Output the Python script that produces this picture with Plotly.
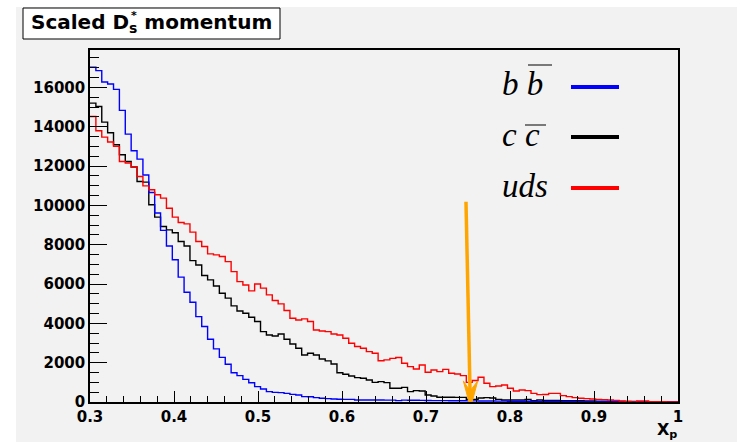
import numpy as np
import plotly.graph_objects as go

# ---------------- data ----------------
X_MIN, X_MAX, N_BINS = 0.3, 1.0, 100
CUT_XP = 0.75

series_names = ["b b", "c c", "uds"]

bb_counts = [
    17020, 16850, 16270, 16170, 15900, 14830, 13620, 12780, 12350, 11540,
    10650, 9610, 8730, 7930, 7230, 6350, 5580, 5070, 4340, 3840,
    3190, 2700, 2270, 1920, 1490, 1340, 1150, 980, 780, 660,
    530, 490, 475, 440, 390, 355, 275, 270, 220, 190,
    170, 155, 140, 135, 135, 105, 100, 100, 100, 98,
    95, 95, 70, 95, 92, 90, 85, 75, 72, 70,
    68, 65, 62, 60, 58, 55, 52, 50, 48, 45,
    42, 40, 38, 36, 35, 33, 31, 30, 28, 27,
    25, 24, 22, 21, 20, 18, 17, 16, 15, 14,
    12, 11, 10, 9, 8, 7, 6, 5, 4, 3,
]

cc_counts = [
    15200, 15030, 14230, 13690, 13080, 12570, 12230, 11950, 11210, 11180,
    10030, 9400, 8925, 8755, 8610, 8160, 7930, 7190, 6970, 6430,
    6210, 5900, 5530, 5280, 4890, 4630, 4510, 4310, 4090, 3580,
    3410, 3360, 3460, 3190, 2950, 2730, 2390, 2480, 2390, 2190,
    2090, 1930, 1490, 1410, 1320, 1240, 1205, 1120, 1000, 1035,
    985, 700, 700, 746, 530, 577, 560, 356, 305, 240,
    238, 238, 235, 235, 140, 136, 200, 220, 204, 136,
    102, 102, 100, 100, 130, 70, 100, 85, 80, 75,
    70, 72, 65, 60, 58, 55, 45, 42, 40, 35,
    30, 28, 25, 20, 18, 15, 12, 10, 8, 5,
]

uds_counts = [
    14520, 13790, 13470, 13220, 13000, 12230, 12150, 11950, 11470, 10990,
    10790, 10536, 10366, 9850, 9400, 9130, 9060, 8640, 8160, 7910,
    7530, 7480, 7400, 7140, 6630, 6120, 5950, 5650, 6000, 5790,
    5450, 5160, 4990, 4650, 4260, 4170, 4225, 4090, 3665, 3614,
    3580, 3460, 3410, 3240, 2990, 2820, 2730, 2560, 2480, 2100,
    2140, 2220, 2260, 1970, 1800, 1680, 1880, 1510, 1630, 1545,
    1660, 1460, 1425, 1340, 1000, 1090, 1260, 950, 780, 815,
    865, 700, 560, 610, 577, 440, 375, 380, 441, 441,
    322, 272, 221, 187, 170, 153, 136, 119, 102, 85,
    51, 34, 5, 51, 51, 17, 10, 10, 8, 5,
]

y_tick_vals = [0, 2000, 4000, 6000, 8000, 10000, 12000, 14000, 16000]
y_tick_text = ["0", "2000", "4000", "6000", "8000", "10000", "12000", "14000", "16000"]
x_tick_vals = [0.3, 0.4, 0.5, 0.6, 0.7, 0.8, 0.9, 1.0]
x_tick_text = ["0.3", "0.4", "0.5", "0.6", "0.7", "0.8", "0.9", "1"]

# ---------------- geometry / style ----------------
W, H = 740, 442
L, R, T, B = 90, 678, 50, 402          # plot frame in pixels
Y_MAX = 17900
colors = ["#0000FF", "#000000", "#FF0000"]
BG = "#F2F2F2"
TICK_FONT = dict(family="DejaVu Sans", size=15, color="black", weight="bold")


def px(xpix):
    return (xpix - L) / (R - L)


def py(ypix):
    return (B - ypix) / (B - T)


edges = np.linspace(X_MIN, X_MAX, N_BINS + 1)

fig = go.Figure()
for name, counts, col in [(series_names[1], cc_counts, colors[1]),
                          (series_names[0], bb_counts, colors[0]),
                          (series_names[2], uds_counts, colors[2])]:
    yv = list(counts) + [counts[-1]]
    fig.add_trace(go.Scatter(
        x=edges, y=yv, mode="lines", line=dict(shape="hv", color=col, width=1.4),
        name=name, showlegend=False, hoverinfo="skip"))

shapes = []
# grey canvas
shapes.append(dict(type="rect", xref="paper", yref="paper",
                   x0=px(16), x1=px(W - 3), y0=py(H + 5), y1=py(7),
                   fillcolor=BG, line=dict(width=0), layer="below"))
# title box
shapes.append(dict(type="rect", xref="paper", yref="paper",
                   x0=px(23), x1=px(280), y0=py(39), y1=py(8),
                   fillcolor="white", line=dict(color="black", width=1)))
# legend keys
for ypix, col in zip([87, 137, 188], colors):
    shapes.append(dict(type="line", xref="paper", yref="paper",
                       x0=px(571), x1=px(619), y0=py(ypix), y1=py(ypix),
                       line=dict(color=col, width=4)))
# overlines for anti-quarks
shapes.append(dict(type="line", xref="paper", yref="paper",
                   x0=px(528), x1=px(552), y0=py(65), y1=py(65),
                   line=dict(color="black", width=1)))
shapes.append(dict(type="line", xref="paper", yref="paper",
                   x0=px(525), x1=px(546), y0=py(125), y1=py(125),
                   line=dict(color="black", width=1)))

# cut arrow (data coordinates)
tail_x, tail_y = CUT_XP - 0.0024, 10180
tip_x, tip_y = CUT_XP + 0.003, -300
head_len = 27 * Y_MAX / (B - T)
head_half = 7.2 * (X_MAX - X_MIN) / (R - L)
notch = 17 * Y_MAX / (B - T)
shapes.append(dict(type="line", xref="x", yref="y",
                   x0=tail_x, y0=tail_y, x1=tip_x - 0.0006, y1=tip_y + notch,
                   line=dict(color="#FFA500", width=3.5)))
shapes.append(dict(type="path", xref="x", yref="y",
                   path=(f"M {tip_x},{tip_y} L {tip_x - head_half},{tip_y + head_len} "
                         f"L {tip_x - 0.0005},{tip_y + notch} L {tip_x + head_half},{tip_y + head_len} Z"),
                   fillcolor="#FFA500", line=dict(color="#FFA500", width=1)))

annotations = [
    dict(xref="paper", yref="paper", x=px(151.5), y=py(23), xanchor="center", yanchor="middle",
         text="Scaled D<sub>s</sub> momentum", showarrow=False,
         font=dict(family="DejaVu Sans", size=20, color="black", weight="bold")),
    dict(xref="paper", yref="paper", x=px(134), y=py(15), xanchor="center", yanchor="middle",
         text="*", showarrow=False,
         font=dict(family="DejaVu Sans", size=11, color="black", weight="bold")),
    dict(xref="paper", yref="paper", x=px(679), y=py(430), xanchor="right", yanchor="middle",
         text="X<sub>p</sub>", showarrow=False,
         font=dict(family="DejaVu Sans", size=16, color="black", weight="bold")),
]
for name, ypix in zip(series_names, [84, 135, 186]):
    annotations.append(dict(xref="paper", yref="paper", x=px(500), y=py(ypix),
                            xanchor="left", yanchor="middle", text=f"<i>{name}</i>",
                            showarrow=False,
                            font=dict(family="Liberation Serif", size=33, color="black")))

fig.update_layout(
    width=W, height=H,
    margin=dict(l=L, r=W - R, t=T, b=H - B, pad=0),
    paper_bgcolor="white", plot_bgcolor=BG,
    shapes=shapes, annotations=annotations, showlegend=False,
)
fig.update_xaxes(
    range=[X_MIN, X_MAX], tickvals=x_tick_vals, ticktext=x_tick_text,
    ticks="inside", ticklen=11, tickwidth=1, tickcolor="black",
    minor=dict(dtick=0.02, ticks="inside", ticklen=6, tickcolor="black", showgrid=False),
    showline=True, linecolor="black", linewidth=1.5, mirror=True,
    showgrid=False, zeroline=False, tickfont=TICK_FONT,
)
fig.update_yaxes(
    range=[0, Y_MAX], tickvals=y_tick_vals, ticktext=y_tick_text,
    ticks="inside", ticklen=17, tickwidth=1, tickcolor="black",
    minor=dict(dtick=500, ticks="inside", ticklen=9, tickcolor="black", showgrid=False),
    showline=True, linecolor="black", linewidth=1.5, mirror=True,
    showgrid=False, zeroline=False, tickfont=TICK_FONT,
)

fig.write_html("out.html", config={"displayModeBar": False},
               post_script=["document.body.style.margin='0px';document.body.style.overflow='hidden';"])
